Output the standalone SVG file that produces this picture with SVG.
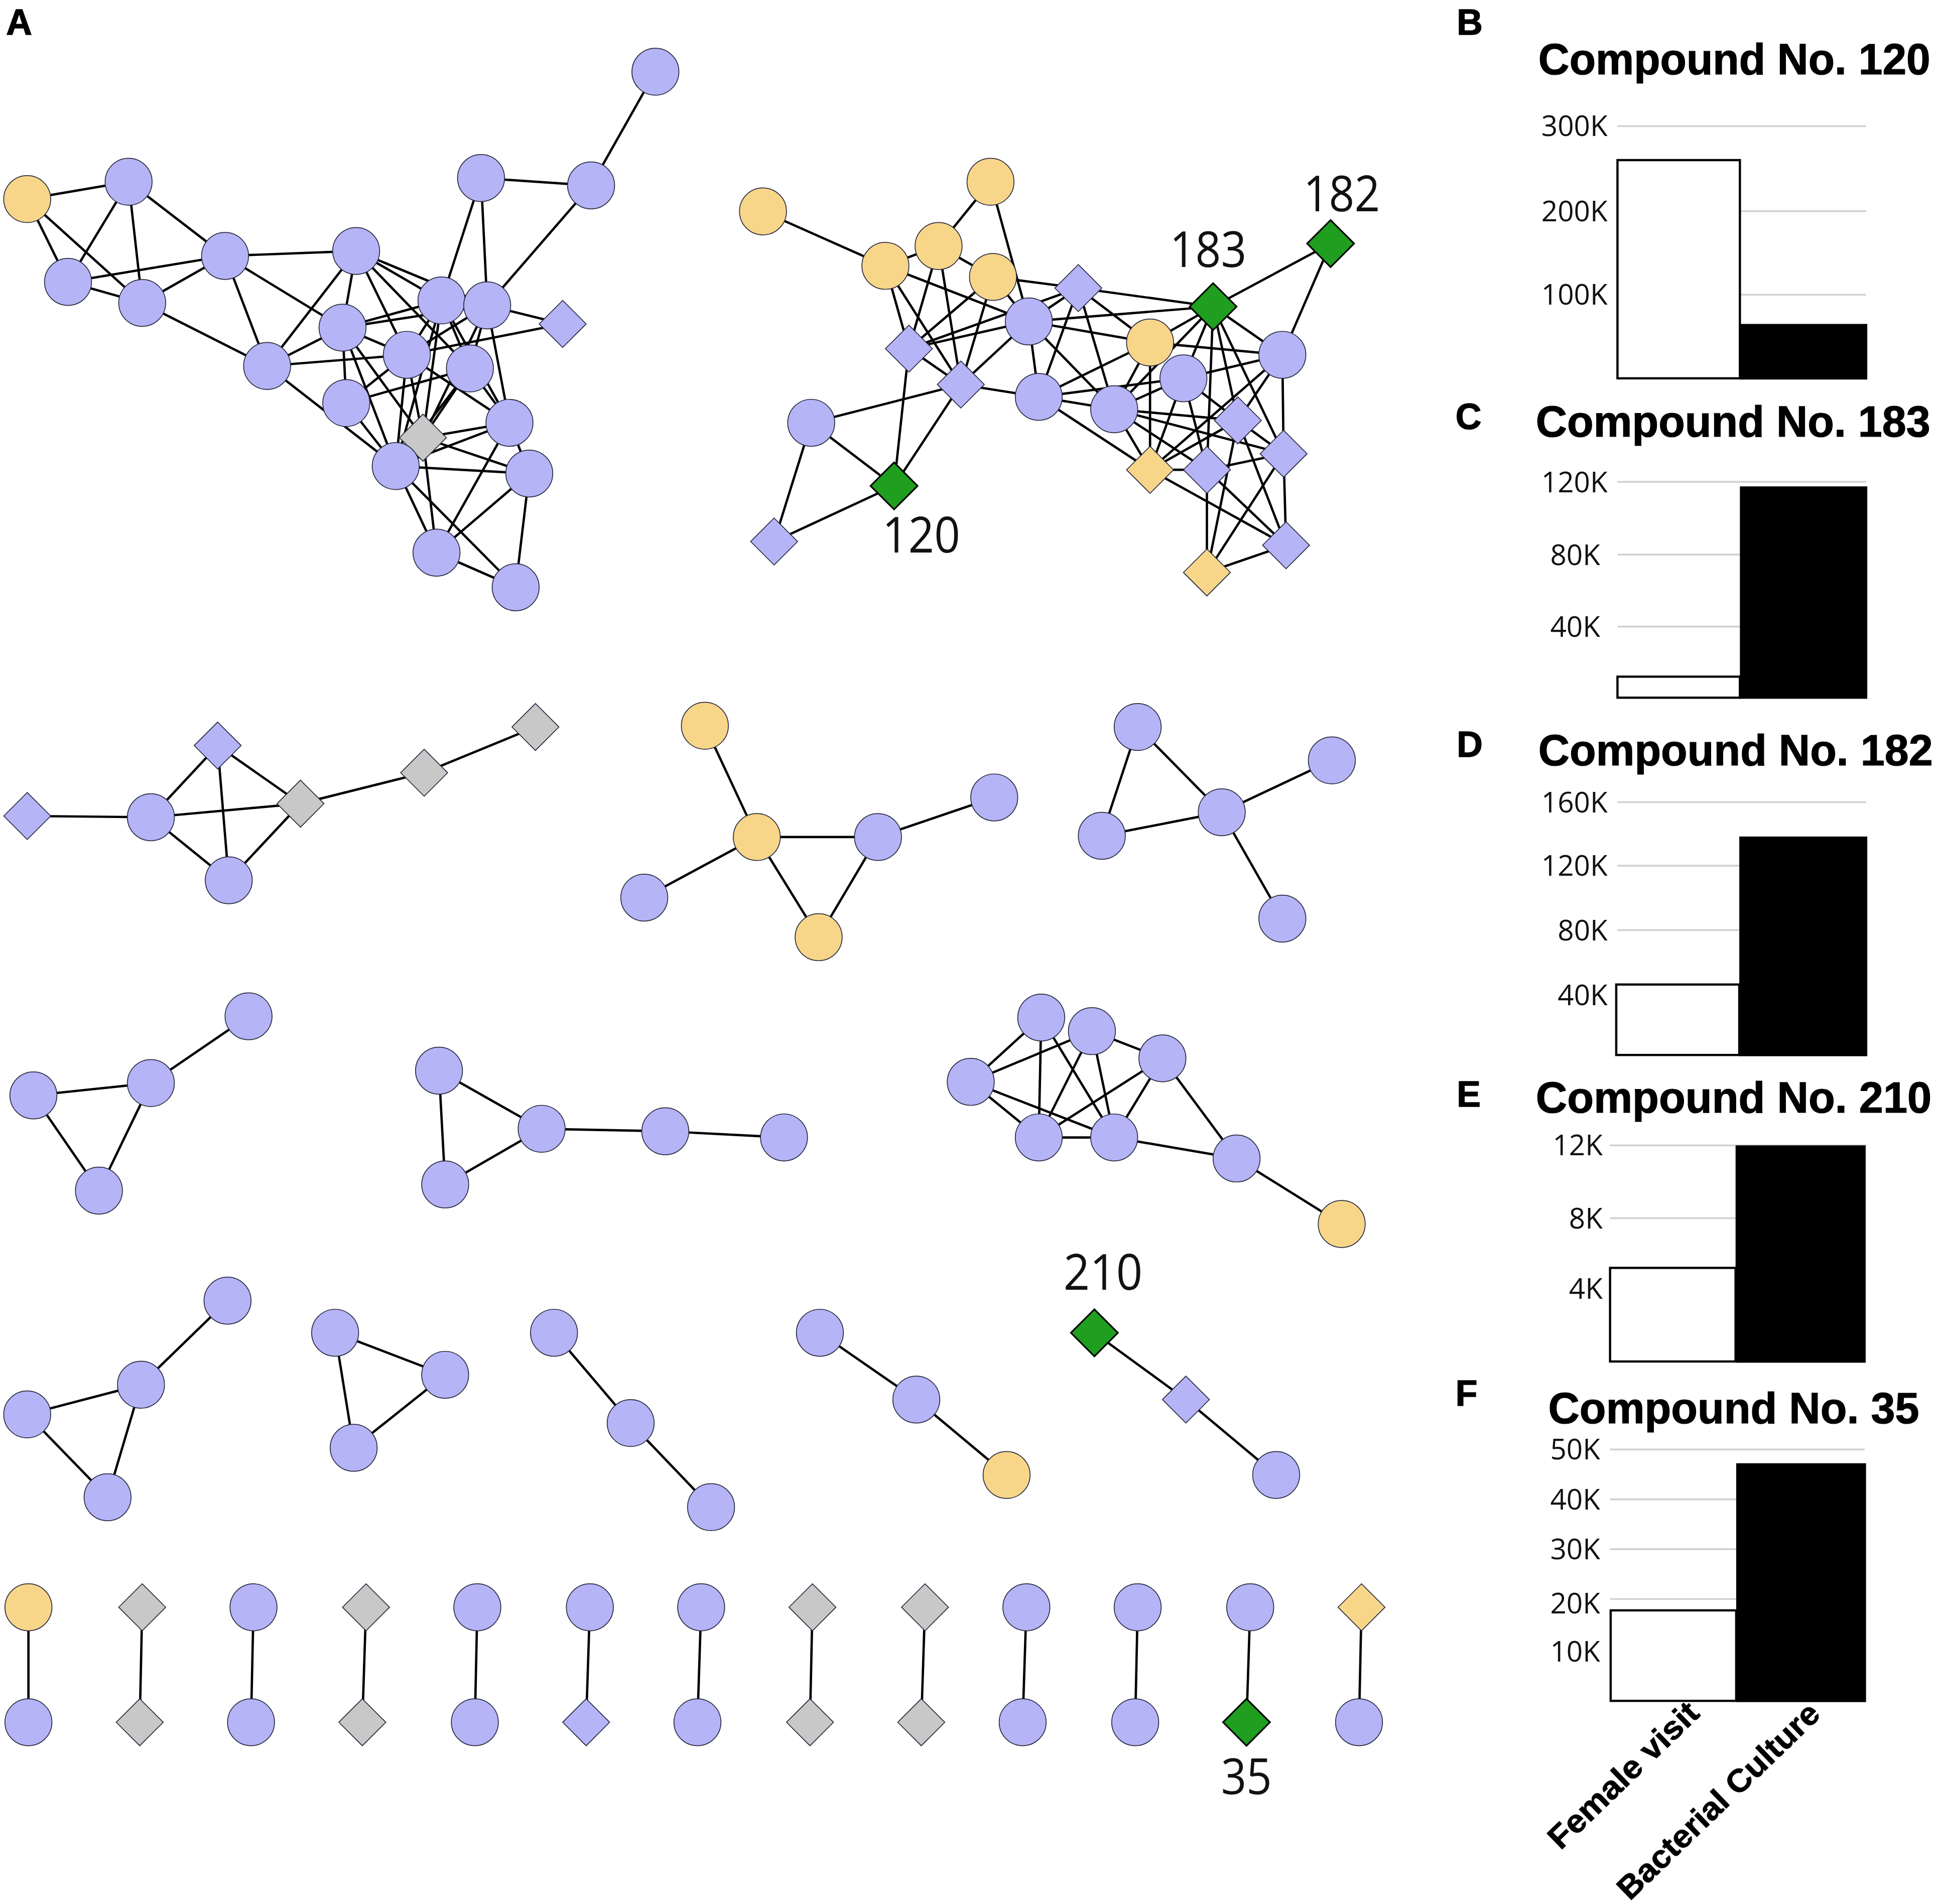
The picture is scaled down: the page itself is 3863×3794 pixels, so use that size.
<svg xmlns="http://www.w3.org/2000/svg" width="3863" height="3794" viewBox="0 0 3863 3794">
<style>
.e{stroke:#000;stroke-width:1.9;stroke-linecap:round}
.b{fill:#b4b4f7;stroke:#2b2b40;stroke-width:0.7}
.y{fill:#f7d68a;stroke:#2b2b40;stroke-width:0.7}
.g{fill:#c8c8c8;stroke:#2b2b40;stroke-width:0.7}
.gr{fill:#1f9e1f;stroke:#000;stroke-width:1.3}
.lbl{font-family:"Open Sans","DejaVu Sans",sans-serif;font-size:40px;fill:#111;text-anchor:middle}
.pl{font-family:"Liberation Sans",Arial,sans-serif;font-weight:bold;font-size:29px;fill:#000;stroke:#000;stroke-width:0.6}
.tt{font-family:"Liberation Sans",Arial,sans-serif;font-weight:bold;font-size:35px;fill:#000;stroke:#000;stroke-width:0.5}
.ax{font-family:"Open Sans","Liberation Sans",sans-serif;font-size:23px;fill:#111;text-anchor:end}
.grid{stroke:#d2d2d2;stroke-width:1.5}
.wb{fill:#fff;stroke:#000;stroke-width:1.8}
.bb{fill:#000}
.xl{font-family:"Liberation Sans",Arial,sans-serif;font-weight:bold;font-size:26px;fill:#000;stroke:#000;stroke-width:0.4}
</style>
<rect width="3863" height="3794" fill="#fff"/>
<g transform="scale(2.46364)">
<g id="connectors">
<line class="e" x1="530" y1="58" x2="478" y2="150"/>
<line class="e" x1="478" y1="150" x2="389" y2="144"/>
<line class="e" x1="478" y1="150" x2="394" y2="247"/>
<line class="e" x1="389" y1="144" x2="357" y2="243"/>
<line class="e" x1="389" y1="144" x2="394" y2="247"/>
<line class="e" x1="22" y1="161" x2="104" y2="147"/>
<line class="e" x1="22" y1="161" x2="55" y2="228"/>
<line class="e" x1="22" y1="161" x2="115" y2="245"/>
<line class="e" x1="104" y1="147" x2="55" y2="228"/>
<line class="e" x1="104" y1="147" x2="115" y2="245"/>
<line class="e" x1="104" y1="147" x2="182" y2="207"/>
<line class="e" x1="55" y1="228" x2="115" y2="245"/>
<line class="e" x1="55" y1="228" x2="182" y2="207"/>
<line class="e" x1="115" y1="245" x2="182" y2="207"/>
<line class="e" x1="115" y1="245" x2="216" y2="296"/>
<line class="e" x1="182" y1="207" x2="288" y2="203"/>
<line class="e" x1="182" y1="207" x2="216" y2="296"/>
<line class="e" x1="182" y1="207" x2="277" y2="265"/>
<line class="e" x1="288" y1="203" x2="216" y2="296"/>
<line class="e" x1="288" y1="203" x2="277" y2="265"/>
<line class="e" x1="288" y1="203" x2="357" y2="243"/>
<line class="e" x1="288" y1="203" x2="329" y2="287"/>
<line class="e" x1="288" y1="203" x2="380" y2="298"/>
<line class="e" x1="288" y1="203" x2="394" y2="247"/>
<line class="e" x1="357" y1="243" x2="277" y2="265"/>
<line class="e" x1="394" y1="247" x2="277" y2="265"/>
<line class="e" x1="277" y1="265" x2="329" y2="287"/>
<line class="e" x1="277" y1="265" x2="216" y2="296"/>
<line class="e" x1="277" y1="265" x2="280" y2="326"/>
<line class="e" x1="277" y1="265" x2="342" y2="354"/>
<line class="e" x1="277" y1="265" x2="320" y2="377"/>
<line class="e" x1="216" y1="296" x2="329" y2="287"/>
<line class="e" x1="216" y1="296" x2="320" y2="377"/>
<line class="e" x1="280" y1="326" x2="329" y2="287"/>
<line class="e" x1="280" y1="326" x2="380" y2="298"/>
<line class="e" x1="280" y1="326" x2="320" y2="377"/>
<line class="e" x1="329" y1="287" x2="342" y2="354"/>
<line class="e" x1="329" y1="287" x2="320" y2="377"/>
<line class="e" x1="357" y1="243" x2="342" y2="354"/>
<line class="e" x1="357" y1="243" x2="320" y2="377"/>
<line class="e" x1="394" y1="247" x2="342" y2="354"/>
<line class="e" x1="380" y1="298" x2="342" y2="354"/>
<line class="e" x1="394" y1="247" x2="412" y2="342"/>
<line class="e" x1="394" y1="247" x2="455" y2="262"/>
<line class="e" x1="455" y1="262" x2="329" y2="287"/>
<line class="e" x1="357" y1="243" x2="380" y2="298"/>
<line class="e" x1="394" y1="247" x2="380" y2="298"/>
<line class="e" x1="357" y1="243" x2="329" y2="287"/>
<line class="e" x1="394" y1="247" x2="329" y2="287"/>
<line class="e" x1="329" y1="287" x2="412" y2="342"/>
<line class="e" x1="380" y1="298" x2="412" y2="342"/>
<line class="e" x1="342" y1="354" x2="412" y2="342"/>
<line class="e" x1="342" y1="354" x2="428" y2="383"/>
<line class="e" x1="320" y1="377" x2="428" y2="383"/>
<line class="e" x1="412" y1="342" x2="353" y2="447"/>
<line class="e" x1="342" y1="354" x2="353" y2="447"/>
<line class="e" x1="320" y1="377" x2="353" y2="447"/>
<line class="e" x1="320" y1="377" x2="417" y2="475"/>
<line class="e" x1="428" y1="383" x2="353" y2="447"/>
<line class="e" x1="428" y1="383" x2="417" y2="475"/>
<line class="e" x1="353" y1="447" x2="417" y2="475"/>
<line class="e" x1="412" y1="342" x2="428" y2="383"/>
<line class="e" x1="412" y1="342" x2="320" y2="377"/>
<line class="e" x1="357" y1="243" x2="412" y2="342"/>
<line class="e" x1="380" y1="298" x2="320" y2="377"/>
<line class="e" x1="617" y1="171" x2="716" y2="215"/>
<line class="e" x1="801" y1="147" x2="759" y2="199"/>
<line class="e" x1="801" y1="147" x2="832" y2="260"/>
<line class="e" x1="716" y1="215" x2="759" y2="199"/>
<line class="e" x1="759" y1="199" x2="803" y2="224"/>
<line class="e" x1="716" y1="215" x2="832" y2="260"/>
<line class="e" x1="716" y1="215" x2="735" y2="282"/>
<line class="e" x1="716" y1="215" x2="777" y2="311"/>
<line class="e" x1="759" y1="199" x2="735" y2="282"/>
<line class="e" x1="759" y1="199" x2="777" y2="311"/>
<line class="e" x1="803" y1="224" x2="735" y2="282"/>
<line class="e" x1="803" y1="224" x2="777" y2="311"/>
<line class="e" x1="803" y1="224" x2="832" y2="260"/>
<line class="e" x1="803" y1="224" x2="872" y2="233"/>
<line class="e" x1="735" y1="282" x2="832" y2="260"/>
<line class="e" x1="735" y1="282" x2="872" y2="233"/>
<line class="e" x1="735" y1="282" x2="777" y2="311"/>
<line class="e" x1="735" y1="282" x2="723" y2="393"/>
<line class="e" x1="777" y1="311" x2="832" y2="260"/>
<line class="e" x1="777" y1="311" x2="840" y2="321"/>
<line class="e" x1="777" y1="311" x2="723" y2="393"/>
<line class="e" x1="777" y1="311" x2="656" y2="342"/>
<line class="e" x1="656" y1="342" x2="723" y2="393"/>
<line class="e" x1="656" y1="342" x2="626" y2="438"/>
<line class="e" x1="626" y1="438" x2="723" y2="393"/>
<line class="e" x1="832" y1="260" x2="872" y2="233"/>
<line class="e" x1="832" y1="260" x2="840" y2="321"/>
<line class="e" x1="832" y1="260" x2="981" y2="248"/>
<line class="e" x1="832" y1="260" x2="930" y2="277"/>
<line class="e" x1="832" y1="260" x2="901" y2="331"/>
<line class="e" x1="872" y1="233" x2="981" y2="248"/>
<line class="e" x1="872" y1="233" x2="930" y2="277"/>
<line class="e" x1="872" y1="233" x2="840" y2="321"/>
<line class="e" x1="872" y1="233" x2="901" y2="331"/>
<line class="e" x1="840" y1="321" x2="930" y2="277"/>
<line class="e" x1="840" y1="321" x2="957" y2="306"/>
<line class="e" x1="840" y1="321" x2="901" y2="331"/>
<line class="e" x1="840" y1="321" x2="930" y2="380"/>
<line class="e" x1="901" y1="331" x2="930" y2="380"/>
<line class="e" x1="901" y1="331" x2="976" y2="380"/>
<line class="e" x1="901" y1="331" x2="957" y2="306"/>
<line class="e" x1="901" y1="331" x2="1001" y2="340"/>
<line class="e" x1="901" y1="331" x2="1038" y2="367"/>
<line class="e" x1="930" y1="277" x2="901" y2="331"/>
<line class="e" x1="930" y1="277" x2="1037" y2="287"/>
<line class="e" x1="930" y1="277" x2="930" y2="380"/>
<line class="e" x1="981" y1="248" x2="930" y2="277"/>
<line class="e" x1="981" y1="248" x2="901" y2="331"/>
<line class="e" x1="981" y1="248" x2="957" y2="306"/>
<line class="e" x1="981" y1="248" x2="1001" y2="340"/>
<line class="e" x1="981" y1="248" x2="976" y2="380"/>
<line class="e" x1="981" y1="248" x2="1038" y2="367"/>
<line class="e" x1="981" y1="248" x2="1037" y2="287"/>
<line class="e" x1="981" y1="248" x2="1076" y2="197"/>
<line class="e" x1="1076" y1="197" x2="1037" y2="287"/>
<line class="e" x1="957" y1="306" x2="1037" y2="287"/>
<line class="e" x1="957" y1="306" x2="930" y2="380"/>
<line class="e" x1="957" y1="306" x2="976" y2="380"/>
<line class="e" x1="957" y1="306" x2="1001" y2="340"/>
<line class="e" x1="1037" y1="287" x2="1038" y2="367"/>
<line class="e" x1="1037" y1="287" x2="1001" y2="340"/>
<line class="e" x1="1037" y1="287" x2="930" y2="380"/>
<line class="e" x1="930" y1="380" x2="976" y2="380"/>
<line class="e" x1="930" y1="380" x2="1040" y2="441"/>
<line class="e" x1="930" y1="380" x2="1001" y2="340"/>
<line class="e" x1="976" y1="380" x2="1038" y2="367"/>
<line class="e" x1="976" y1="380" x2="976" y2="463"/>
<line class="e" x1="1001" y1="340" x2="1038" y2="367"/>
<line class="e" x1="1038" y1="367" x2="1040" y2="441"/>
<line class="e" x1="1038" y1="367" x2="976" y2="463"/>
<line class="e" x1="1001" y1="340" x2="1040" y2="441"/>
<line class="e" x1="1001" y1="340" x2="976" y2="463"/>
<line class="e" x1="976" y1="380" x2="1040" y2="441"/>
<line class="e" x1="1040" y1="441" x2="976" y2="463"/>
<line class="e" x1="22" y1="660" x2="122" y2="661"/>
<line class="e" x1="122" y1="661" x2="176" y2="603"/>
<line class="e" x1="122" y1="661" x2="185" y2="712"/>
<line class="e" x1="176" y1="603" x2="185" y2="712"/>
<line class="e" x1="176" y1="603" x2="243" y2="650"/>
<line class="e" x1="122" y1="661" x2="243" y2="650"/>
<line class="e" x1="185" y1="712" x2="243" y2="650"/>
<line class="e" x1="243" y1="650" x2="343" y2="625"/>
<line class="e" x1="343" y1="625" x2="433" y2="588"/>
<line class="e" x1="570" y1="587" x2="612" y2="677"/>
<line class="e" x1="612" y1="677" x2="710" y2="677"/>
<line class="e" x1="710" y1="677" x2="804" y2="645"/>
<line class="e" x1="612" y1="677" x2="521" y2="726"/>
<line class="e" x1="612" y1="677" x2="662" y2="758"/>
<line class="e" x1="710" y1="677" x2="662" y2="758"/>
<line class="e" x1="920" y1="588" x2="988" y2="657"/>
<line class="e" x1="920" y1="588" x2="891" y2="676"/>
<line class="e" x1="891" y1="676" x2="988" y2="657"/>
<line class="e" x1="988" y1="657" x2="1077" y2="615"/>
<line class="e" x1="988" y1="657" x2="1037" y2="743"/>
<line class="e" x1="201" y1="822" x2="122" y2="876"/>
<line class="e" x1="122" y1="876" x2="27" y2="886"/>
<line class="e" x1="27" y1="886" x2="80" y2="963"/>
<line class="e" x1="80" y1="963" x2="122" y2="876"/>
<line class="e" x1="355" y1="866" x2="438" y2="913"/>
<line class="e" x1="355" y1="866" x2="360" y2="958"/>
<line class="e" x1="360" y1="958" x2="438" y2="913"/>
<line class="e" x1="438" y1="913" x2="538" y2="915"/>
<line class="e" x1="538" y1="915" x2="634" y2="920"/>
<line class="e" x1="785" y1="875" x2="842" y2="823"/>
<line class="e" x1="785" y1="875" x2="883" y2="834"/>
<line class="e" x1="785" y1="875" x2="901" y2="920"/>
<line class="e" x1="785" y1="875" x2="840" y2="920"/>
<line class="e" x1="842" y1="823" x2="840" y2="920"/>
<line class="e" x1="842" y1="823" x2="901" y2="920"/>
<line class="e" x1="883" y1="834" x2="840" y2="920"/>
<line class="e" x1="883" y1="834" x2="901" y2="920"/>
<line class="e" x1="883" y1="834" x2="940" y2="856"/>
<line class="e" x1="940" y1="856" x2="840" y2="920"/>
<line class="e" x1="940" y1="856" x2="901" y2="920"/>
<line class="e" x1="940" y1="856" x2="1000" y2="937"/>
<line class="e" x1="840" y1="920" x2="901" y2="920"/>
<line class="e" x1="901" y1="920" x2="1000" y2="937"/>
<line class="e" x1="1000" y1="937" x2="1085" y2="990"/>
<line class="e" x1="184" y1="1052" x2="114" y2="1120"/>
<line class="e" x1="114" y1="1120" x2="22" y2="1144"/>
<line class="e" x1="22" y1="1144" x2="87" y2="1211"/>
<line class="e" x1="87" y1="1211" x2="114" y2="1120"/>
<line class="e" x1="271" y1="1078" x2="360" y2="1112"/>
<line class="e" x1="360" y1="1112" x2="286" y2="1171"/>
<line class="e" x1="286" y1="1171" x2="271" y2="1078"/>
<line class="e" x1="448" y1="1078" x2="510" y2="1151"/>
<line class="e" x1="510" y1="1151" x2="575" y2="1219"/>
<line class="e" x1="663" y1="1078" x2="741" y2="1132"/>
<line class="e" x1="741" y1="1132" x2="814" y2="1193"/>
<line class="e" x1="885" y1="1078" x2="959" y2="1132"/>
<line class="e" x1="959" y1="1132" x2="1032" y2="1193"/>
<line class="e" x1="23" y1="1300" x2="23" y2="1393"/>
<line class="e" x1="115" y1="1300" x2="113" y2="1393"/>
<line class="e" x1="205" y1="1300" x2="203" y2="1393"/>
<line class="e" x1="296" y1="1300" x2="293" y2="1393"/>
<line class="e" x1="386" y1="1300" x2="384" y2="1393"/>
<line class="e" x1="477" y1="1300" x2="474" y2="1393"/>
<line class="e" x1="567" y1="1300" x2="564" y2="1393"/>
<line class="e" x1="657" y1="1300" x2="655" y2="1393"/>
<line class="e" x1="748" y1="1300" x2="745" y2="1393"/>
<line class="e" x1="830" y1="1300" x2="827" y2="1393"/>
<line class="e" x1="920" y1="1300" x2="918" y2="1393"/>
<line class="e" x1="1011" y1="1300" x2="1008" y2="1393"/>
<line class="e" x1="1101" y1="1300" x2="1099" y2="1393"/>
</g>
<g id="nodes">
<g id="t1"><circle class="b" cx="530" cy="58" r="19"/></g>
<g id="t2"><circle class="b" cx="478" cy="150" r="19"/></g>
<g id="t3"><circle class="b" cx="389" cy="144" r="19"/></g>
<g id="t4"><circle class="y" cx="22" cy="161" r="19"/></g>
<g id="t5"><circle class="b" cx="104" cy="147" r="19"/></g>
<g id="t6"><circle class="b" cx="55" cy="228" r="19"/></g>
<g id="t7"><circle class="b" cx="115" cy="245" r="19"/></g>
<g id="t8"><circle class="b" cx="182" cy="207" r="19"/></g>
<g id="t9"><circle class="b" cx="288" cy="203" r="19"/></g>
<g id="t10"><circle class="b" cx="357" cy="243" r="19"/></g>
<g id="t11"><circle class="b" cx="394" cy="247" r="19"/></g>
<g id="t12"><path class="b" d="M455 243l19 19-19 19-19-19z"/></g>
<g id="t13"><circle class="b" cx="277" cy="265" r="19"/></g>
<g id="t14"><circle class="b" cx="329" cy="287" r="19"/></g>
<g id="t15"><circle class="b" cx="380" cy="298" r="19"/></g>
<g id="t16"><circle class="b" cx="216" cy="296" r="19"/></g>
<g id="t17"><circle class="b" cx="280" cy="326" r="19"/></g>
<g id="t18"><path class="g" d="M342 335l19 19-19 19-19-19z"/></g>
<g id="t19"><circle class="b" cx="412" cy="342" r="19"/></g>
<g id="t20"><circle class="b" cx="320" cy="377" r="19"/></g>
<g id="t21"><circle class="b" cx="428" cy="383" r="19"/></g>
<g id="t22"><circle class="b" cx="353" cy="447" r="19"/></g>
<g id="t23"><circle class="b" cx="417" cy="475" r="19"/></g>
<g id="r1"><circle class="y" cx="617" cy="171" r="19"/></g>
<g id="r2"><circle class="y" cx="801" cy="147" r="19"/></g>
<g id="r3"><circle class="y" cx="716" cy="215" r="19"/></g>
<g id="r4"><circle class="y" cx="759" cy="199" r="19"/></g>
<g id="r5"><circle class="y" cx="803" cy="224" r="19"/></g>
<g id="r6"><path class="b" d="M872 214l19 19-19 19-19-19z"/></g>
<g id="r7"><path class="gr" d="M981 229l19 19-19 19-19-19z"/></g>
<g id="r8"><path class="gr" d="M1076 178l19 19-19 19-19-19z"/></g>
<g id="r9"><path class="b" d="M735 263l19 19-19 19-19-19z"/></g>
<g id="r10"><circle class="b" cx="832" cy="260" r="19"/></g>
<g id="r11"><circle class="y" cx="930" cy="277" r="19"/></g>
<g id="r12"><circle class="b" cx="1037" cy="287" r="19"/></g>
<g id="r13"><circle class="b" cx="957" cy="306" r="19"/></g>
<g id="r14"><path class="b" d="M777 292l19 19-19 19-19-19z"/></g>
<g id="r15"><circle class="b" cx="840" cy="321" r="19"/></g>
<g id="r16"><circle class="b" cx="901" cy="331" r="19"/></g>
<g id="r17"><circle class="b" cx="656" cy="342" r="19"/></g>
<g id="r18"><path class="b" d="M1001 321l19 19-19 19-19-19z"/></g>
<g id="r19"><path class="b" d="M1038 348l19 19-19 19-19-19z"/></g>
<g id="r20"><path class="y" d="M930 361l19 19-19 19-19-19z"/></g>
<g id="r21"><path class="b" d="M976 361l19 19-19 19-19-19z"/></g>
<g id="r22"><path class="gr" d="M723 374l19 19-19 19-19-19z"/></g>
<g id="r23"><path class="b" d="M626 419l19 19-19 19-19-19z"/></g>
<g id="r24"><path class="b" d="M1040 422l19 19-19 19-19-19z"/></g>
<g id="r25"><path class="y" d="M976 444l19 19-19 19-19-19z"/></g>
<g id="a1"><path class="b" d="M22 641l19 19-19 19-19-19z"/></g>
<g id="a2"><circle class="b" cx="122" cy="661" r="19"/></g>
<g id="a3"><path class="b" d="M176 584l19 19-19 19-19-19z"/></g>
<g id="a4"><circle class="b" cx="185" cy="712" r="19"/></g>
<g id="a5"><path class="g" d="M243 631l19 19-19 19-19-19z"/></g>
<g id="a6"><path class="g" d="M343 606l19 19-19 19-19-19z"/></g>
<g id="a7"><path class="g" d="M433 569l19 19-19 19-19-19z"/></g>
<g id="b1"><circle class="y" cx="570" cy="587" r="19"/></g>
<g id="b2"><circle class="y" cx="612" cy="677" r="19"/></g>
<g id="b3"><circle class="b" cx="710" cy="677" r="19"/></g>
<g id="b4"><circle class="b" cx="804" cy="645" r="19"/></g>
<g id="b5"><circle class="b" cx="521" cy="726" r="19"/></g>
<g id="b6"><circle class="y" cx="662" cy="758" r="19"/></g>
<g id="c1"><circle class="b" cx="920" cy="588" r="19"/></g>
<g id="c2"><circle class="b" cx="1077" cy="615" r="19"/></g>
<g id="c3"><circle class="b" cx="988" cy="657" r="19"/></g>
<g id="c4"><circle class="b" cx="891" cy="676" r="19"/></g>
<g id="c5"><circle class="b" cx="1037" cy="743" r="19"/></g>
<g id="d1"><circle class="b" cx="201" cy="822" r="19"/></g>
<g id="d2"><circle class="b" cx="122" cy="876" r="19"/></g>
<g id="d3"><circle class="b" cx="27" cy="886" r="19"/></g>
<g id="d4"><circle class="b" cx="80" cy="963" r="19"/></g>
<g id="e1"><circle class="b" cx="355" cy="866" r="19"/></g>
<g id="e2"><circle class="b" cx="438" cy="913" r="19"/></g>
<g id="e3"><circle class="b" cx="360" cy="958" r="19"/></g>
<g id="e4"><circle class="b" cx="538" cy="915" r="19"/></g>
<g id="e5"><circle class="b" cx="634" cy="920" r="19"/></g>
<g id="f1"><circle class="b" cx="785" cy="875" r="19"/></g>
<g id="f2"><circle class="b" cx="842" cy="823" r="19"/></g>
<g id="f3"><circle class="b" cx="883" cy="834" r="19"/></g>
<g id="f4"><circle class="b" cx="940" cy="856" r="19"/></g>
<g id="f5"><circle class="b" cx="840" cy="920" r="19"/></g>
<g id="f6"><circle class="b" cx="901" cy="920" r="19"/></g>
<g id="f7"><circle class="b" cx="1000" cy="937" r="19"/></g>
<g id="f8"><circle class="y" cx="1085" cy="990" r="19"/></g>
<g id="g1"><circle class="b" cx="184" cy="1052" r="19"/></g>
<g id="g2"><circle class="b" cx="114" cy="1120" r="19"/></g>
<g id="g3"><circle class="b" cx="22" cy="1144" r="19"/></g>
<g id="g4"><circle class="b" cx="87" cy="1211" r="19"/></g>
<g id="h1"><circle class="b" cx="271" cy="1078" r="19"/></g>
<g id="h2"><circle class="b" cx="360" cy="1112" r="19"/></g>
<g id="h3"><circle class="b" cx="286" cy="1171" r="19"/></g>
<g id="i1"><circle class="b" cx="448" cy="1078" r="19"/></g>
<g id="i2"><circle class="b" cx="510" cy="1151" r="19"/></g>
<g id="i3"><circle class="b" cx="575" cy="1219" r="19"/></g>
<g id="j1"><circle class="b" cx="663" cy="1078" r="19"/></g>
<g id="j2"><circle class="b" cx="741" cy="1132" r="19"/></g>
<g id="j3"><circle class="y" cx="814" cy="1193" r="19"/></g>
<g id="k1"><path class="gr" d="M885 1059l19 19-19 19-19-19z"/></g>
<g id="k2"><path class="b" d="M959 1113l19 19-19 19-19-19z"/></g>
<g id="k3"><circle class="b" cx="1032" cy="1193" r="19"/></g>
<g id="p1a"><circle class="y" cx="23" cy="1300" r="19"/></g>
<g id="p2a"><path class="g" d="M115 1281l19 19-19 19-19-19z"/></g>
<g id="p3a"><circle class="b" cx="205" cy="1300" r="19"/></g>
<g id="p4a"><path class="g" d="M296 1281l19 19-19 19-19-19z"/></g>
<g id="p5a"><circle class="b" cx="386" cy="1300" r="19"/></g>
<g id="p6a"><circle class="b" cx="477" cy="1300" r="19"/></g>
<g id="p7a"><circle class="b" cx="567" cy="1300" r="19"/></g>
<g id="p8a"><path class="g" d="M657 1281l19 19-19 19-19-19z"/></g>
<g id="p9a"><path class="g" d="M748 1281l19 19-19 19-19-19z"/></g>
<g id="p10a"><circle class="b" cx="830" cy="1300" r="19"/></g>
<g id="p11a"><circle class="b" cx="920" cy="1300" r="19"/></g>
<g id="p12a"><circle class="b" cx="1011" cy="1300" r="19"/></g>
<g id="p13a"><path class="y" d="M1101 1281l19 19-19 19-19-19z"/></g>
<g id="p1b"><circle class="b" cx="23" cy="1393" r="19"/></g>
<g id="p2b"><path class="g" d="M113 1374l19 19-19 19-19-19z"/></g>
<g id="p3b"><circle class="b" cx="203" cy="1393" r="19"/></g>
<g id="p4b"><path class="g" d="M293 1374l19 19-19 19-19-19z"/></g>
<g id="p5b"><circle class="b" cx="384" cy="1393" r="19"/></g>
<g id="p6b"><path class="b" d="M474 1374l19 19-19 19-19-19z"/></g>
<g id="p7b"><circle class="b" cx="564" cy="1393" r="19"/></g>
<g id="p8b"><path class="g" d="M655 1374l19 19-19 19-19-19z"/></g>
<g id="p9b"><path class="g" d="M745 1374l19 19-19 19-19-19z"/></g>
<g id="p10b"><circle class="b" cx="827" cy="1393" r="19"/></g>
<g id="p11b"><circle class="b" cx="918" cy="1393" r="19"/></g>
<g id="p12b"><path class="gr" d="M1008 1374l19 19-19 19-19-19z"/></g>
<g id="p13b"><circle class="b" cx="1099" cy="1393" r="19"/></g>
</g>
<g id="node-labels">
<text class="lbl" x="1085" y="171" textLength="62" lengthAdjust="spacingAndGlyphs">182</text>
<text class="lbl" x="977" y="216" textLength="62" lengthAdjust="spacingAndGlyphs">183</text>
<text class="lbl" x="745" y="447" textLength="63" lengthAdjust="spacingAndGlyphs">120</text>
<text class="lbl" x="892" y="1043" textLength="64" lengthAdjust="spacingAndGlyphs">210</text>
<text class="lbl" x="1008" y="1451" textLength="41" lengthAdjust="spacingAndGlyphs">35</text>
</g>
<g id="panel-letters">
<text class="pl" x="5" y="28">A</text>
<text class="pl" x="1178" y="28">B</text>
<text class="pl" x="1177" y="347">C</text>
<text class="pl" x="1178" y="612">D</text>
<text class="pl" x="1178" y="895">E</text>
<text class="pl" x="1177" y="1137">F</text>
</g>
<g id="chart-B">
<text class="tt" x="1244" y="60" textLength="317" lengthAdjust="spacingAndGlyphs">Compound No. 120</text>
<line class="grid" x1="1308" y1="102" x2="1509" y2="102"/>
<line class="grid" x1="1308" y1="170.8" x2="1509" y2="170.8"/>
<line class="grid" x1="1308" y1="238.4" x2="1509" y2="238.4"/>
<text class="ax" x="1300" y="110">300K</text>
<text class="ax" x="1300" y="179">200K</text>
<text class="ax" x="1300" y="246.5">100K</text>
<rect class="wb" x="1308" y="129.5" width="99" height="176.5"/>
<rect class="bb" x="1407" y="262" width="103" height="45"/>
</g>
<g id="chart-C">
<text class="tt" x="1242" y="353" textLength="319" lengthAdjust="spacingAndGlyphs">Compound No. 183</text>
<line class="grid" x1="1308" y1="389.7" x2="1509" y2="389.7"/>
<line class="grid" x1="1308" y1="448.6" x2="1509" y2="448.6"/>
<line class="grid" x1="1308" y1="506.8" x2="1509" y2="506.8"/>
<text class="ax" x="1300" y="398">120K</text>
<text class="ax" x="1294" y="457">80K</text>
<text class="ax" x="1294" y="515">40K</text>
<rect class="wb" x="1308" y="547.3" width="99" height="17"/>
<rect class="bb" x="1407" y="393.4" width="103" height="171.8"/>
</g>
<g id="chart-D">
<text class="tt" x="1244" y="619" textLength="319" lengthAdjust="spacingAndGlyphs">Compound No. 182</text>
<line class="grid" x1="1308" y1="648.8" x2="1509" y2="648.8"/>
<line class="grid" x1="1308" y1="700.2" x2="1509" y2="700.2"/>
<line class="grid" x1="1308" y1="752.3" x2="1509" y2="752.3"/>
<text class="ax" x="1300" y="657">160K</text>
<text class="ax" x="1300" y="708.5">120K</text>
<text class="ax" x="1300" y="760.5">80K</text>
<text class="ax" x="1300" y="813">40K</text>
<rect class="wb" x="1307" y="796.3" width="99.5" height="57"/>
<rect class="bb" x="1406.5" y="676.6" width="103.5" height="177.7"/>
</g>
<g id="chart-E">
<text class="tt" x="1242" y="900" textLength="320" lengthAdjust="spacingAndGlyphs">Compound No. 210</text>
<line class="grid" x1="1302" y1="926.4" x2="1509" y2="926.4"/>
<line class="grid" x1="1302" y1="985.3" x2="1509" y2="985.3"/>
<line class="grid" x1="1302" y1="1042.3" x2="1509" y2="1042.3"/>
<text class="ax" x="1296" y="934.5">12K</text>
<text class="ax" x="1296" y="993.5">8K</text>
<text class="ax" x="1296" y="1050.5">4K</text>
<rect class="wb" x="1302" y="1025.5" width="101.5" height="75.7"/>
<rect class="bb" x="1403.5" y="926.4" width="105.2" height="175.8"/>
</g>
<g id="chart-F">
<text class="tt" x="1252" y="1151" textLength="300" lengthAdjust="spacingAndGlyphs">Compound No. 35</text>
<line class="grid" x1="1302" y1="1172.4" x2="1508" y2="1172.4"/>
<line class="grid" x1="1302" y1="1212.7" x2="1508" y2="1212.7"/>
<line class="grid" x1="1302" y1="1253" x2="1508" y2="1253"/>
<line class="grid" x1="1302" y1="1293.3" x2="1508" y2="1293.3"/>
<text class="ax" x="1294" y="1180.5">50K</text>
<text class="ax" x="1294" y="1221">40K</text>
<text class="ax" x="1294" y="1261">30K</text>
<text class="ax" x="1294" y="1305">20K</text>
<text class="ax" x="1294" y="1344">10K</text>
<rect class="wb" x="1302.5" y="1302.5" width="101.5" height="73.2"/>
<rect class="bb" x="1404" y="1183.5" width="105" height="193.2"/>
<text class="xl" transform="translate(1262,1497) rotate(-44)" textLength="158" lengthAdjust="spacingAndGlyphs">Female visit</text>
<text class="xl" transform="translate(1318,1538) rotate(-44)" textLength="216" lengthAdjust="spacingAndGlyphs">Bacterial Culture</text>
</g>
</g>
</svg>
